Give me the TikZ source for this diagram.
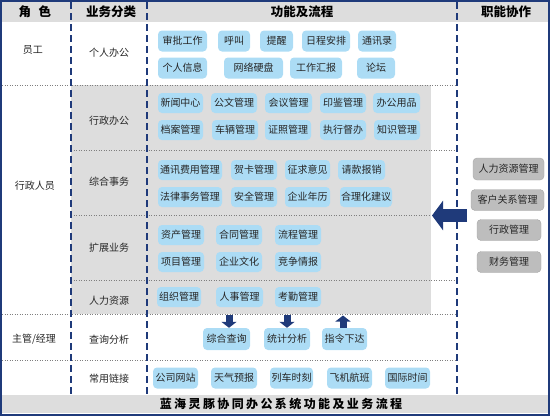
\documentclass[tikz,border=0pt]{standalone}
\usepackage{fontspec}
\setmainfont{Noto Sans CJK SC}
\newfontfamily\cjkwide[LetterSpace=20]{Noto Sans CJK SC}
\usetikzlibrary{arrows.meta}
\definecolor{frameblue}{HTML}{1F3A7A}
\definecolor{cellgray}{HTML}{DDDDDD}
\definecolor{btnblue}{HTML}{ACDCF5}
\definecolor{btngray}{HTML}{BDBDBD}
\definecolor{dotgray}{HTML}{7F7F7F}
\tikzset{
  btn/.style={fill=btnblue, rounded corners=4pt, minimum height=20pt, inner xsep=1pt, inner ysep=0pt, text=black!85, font=\fontsize{10}{10}\selectfont},
  fbtn/.style={fill=btngray, draw=black!35, rounded corners=4pt, minimum height=21pt, inner xsep=1pt, inner ysep=0pt, text=black!85, font=\fontsize{10}{10}\selectfont},
  lbl/.style={text=black!85, font=\fontsize{10}{10}\selectfont},
  hdr/.style={font=\bfseries\fontsize{12.5}{13}\selectfont},
  colline/.style={frameblue, line width=1.8pt, dash pattern=on 7pt off 4pt},
  rowline/.style={dotgray, line width=0.8pt, dash pattern=on 1pt off 1.5pt},
  bigarrow/.style={frameblue, line width=13pt, -{Triangle[width=29pt,length=11pt]}},
  smallarrow/.style={frameblue, line width=7pt, -{Triangle[width=15pt,length=6pt]}}
}
\begin{document}
\begin{tikzpicture}[x=1pt,y=-1pt]
  \useasboundingbox (0,0) rectangle (550,416);
  \fill[cellgray] (2,2) rectangle (548,22);
  \fill[cellgray] (71,85) rectangle (431,314);
  \fill[cellgray] (2,395) rectangle (548,413);

  \draw[rowline] (2,85) -- (457,85);
  \draw[rowline] (71,150) -- (457,150);
  \draw[rowline] (71,215) -- (431,215);
  \draw[rowline] (71,280) -- (457,280);
  \draw[rowline] (2,314) -- (457,314);
  \draw[rowline] (2,360) -- (457,360);
  \draw[colline] (71,2) -- (71,395);
  \draw[colline] (147,2) -- (147,395);
  \draw[colline] (457,2) -- (457,395);
  \draw[frameblue, line width=2pt] (1,1) rectangle (549,415);

  \node[hdr] (h1) at (35,12) {角\hspace{0.6em}色};
  \node[hdr] (h2) at (111,12) {业务分类};
  \node[hdr] (h3) at (302,12) {功能及流程};
  \node[hdr] (h4) at (506,12) {职能协作};
  \node[font=\cjkwide\bfseries\fontsize{12}{12}\selectfont] (t) at (281,404) {蓝海灵豚协同办公系统功能及业务流程};

  \node[lbl] (r1) at (33,50) {员工};
  \node[lbl] (r2) at (35,186) {行政人员};
  \node[lbl] (r3) at (34,339) {主管/经理};

  \node[lbl] (c1) at (109,53) {个人办公};
  \node[lbl] (c2) at (109,121) {行政办公};
  \node[lbl] (c3) at (109,182) {综合事务};
  \node[lbl] (c4) at (109,248) {扩展业务};
  \node[lbl] (c5) at (109,301) {人力资源};
  \node[lbl] (c6) at (109,340) {查询分析};
  \node[lbl] (c7) at (109,379) {常用链接};

  \node[btn, minimum height=21, minimum width=49] (p1) at (182.5,41) {审批工作};
  \node[btn, minimum height=21, minimum width=32] (p2) at (234,41) {呼叫};
  \node[btn, minimum height=21, minimum width=33] (p3) at (276.5,41) {提醒};
  \node[btn, minimum height=21, minimum width=48] (p4) at (326,41) {日程安排};
  \node[btn, minimum height=21, minimum width=38] (p5) at (377,41) {通讯录};
  \node[btn, minimum height=21, minimum width=49] (p6) at (182.5,68) {个人信息};
  \node[btn, minimum height=21, minimum width=59] (p7) at (253.5,68) {网络硬盘};
  \node[btn, minimum height=21, minimum width=52] (p8) at (316,68) {工作汇报};
  \node[btn, minimum height=21, minimum width=38] (p9) at (376,68) {论坛};

  \node[btn, minimum width=45] (x1) at (180.5,103) {新闻中心};
  \node[btn, minimum width=46] (x2) at (234,103) {公文管理};
  \node[btn, minimum width=47] (x3) at (288.5,103) {会议管理};
  \node[btn, minimum width=46] (x4) at (343,103) {印鉴管理};
  \node[btn, minimum width=47] (x5) at (396.5,103) {办公用品};
  \node[btn, minimum width=45] (x6) at (180.5,130) {档案管理};
  \node[btn, minimum width=46] (x7) at (235,130) {车辆管理};
  \node[btn, minimum width=46] (x8) at (288,130) {证照管理};
  \node[btn, minimum width=46] (x9) at (343,130) {执行督办};
  \node[btn, minimum width=46] (x10) at (397,130) {知识管理};

  \node[btn, minimum width=64] (z1) at (190,170) {通讯费用管理};
  \node[btn, minimum width=46] (z2) at (254,170) {贺卡管理};
  \node[btn, minimum width=45] (z3) at (307.5,170) {征求意见};
  \node[btn, minimum width=47] (z4) at (361.5,170) {请款报销};
  \node[btn, minimum width=64] (z5) at (190,197) {法律事务管理};
  \node[btn, minimum width=46] (z6) at (254,197) {安全管理};
  \node[btn, minimum width=45] (z7) at (307.5,197) {企业年历};
  \node[btn, minimum width=52] (z8) at (366,197) {合理化建议};

  \node[btn, minimum width=46] (k1) at (181,235) {资产管理};
  \node[btn, minimum width=46] (k2) at (239,235) {合同管理};
  \node[btn, minimum width=46] (k3) at (298,235) {流程管理};
  \node[btn, minimum width=46] (k4) at (181,262) {项目管理};
  \node[btn, minimum width=46] (k5) at (239,262) {企业文化};
  \node[btn, minimum width=46] (k6) at (298,262) {竞争情报};

  \node[btn, minimum width=44] (g1) at (179,297) {组织管理};
  \node[btn, minimum width=47] (g2) at (239.5,297) {人事管理};
  \node[btn, minimum width=46] (g3) at (298,297) {考勤管理};

  \node[btn, minimum height=22, minimum width=47] (q1) at (226.5,339) {综合查询};
  \node[btn, minimum height=22, minimum width=46] (q2) at (287,339) {统计分析};
  \node[btn, minimum height=22, minimum width=45] (q3) at (344.5,339) {指令下达};

  \node[btn, minimum height=21, minimum width=45] (l1) at (175.5,378) {公司网站};
  \node[btn, minimum height=21, minimum width=46] (l2) at (234,378) {天气预报};
  \node[btn, minimum height=21, minimum width=43] (l3) at (291.5,378) {列车时刻};
  \node[btn, minimum height=21, minimum width=45] (l4) at (349.5,378) {飞机航班};
  \node[btn, minimum height=21, minimum width=45] (l5) at (407.5,378) {国际时间};

  \node[fbtn, minimum height=22, minimum width=71] (f1) at (508.5,169) {人力资源管理};
  \node[fbtn, minimum width=73] (f2) at (507.5,200) {客户关系管理};
  \node[fbtn, minimum width=64] (f3) at (509,230) {行政管理};
  \node[fbtn, minimum width=64] (f4) at (509,262) {财务管理};

  \coordinate (a1) at (229,314.5);
  \coordinate (a2) at (287,314.5);
  \coordinate (a3) at (343,315.5);
  \coordinate (ar) at (467,215.5);
  \coordinate (al) at (432,215.5);
  \draw[smallarrow] (a1) -- (a1 |- q1.north);
  \draw[smallarrow] (a2) -- (a2 |- q2.north);
  \draw[smallarrow] (a3 |- q3.north) -- (a3);
  \draw[bigarrow] (ar) -- (al);
\end{tikzpicture}
\end{document}
